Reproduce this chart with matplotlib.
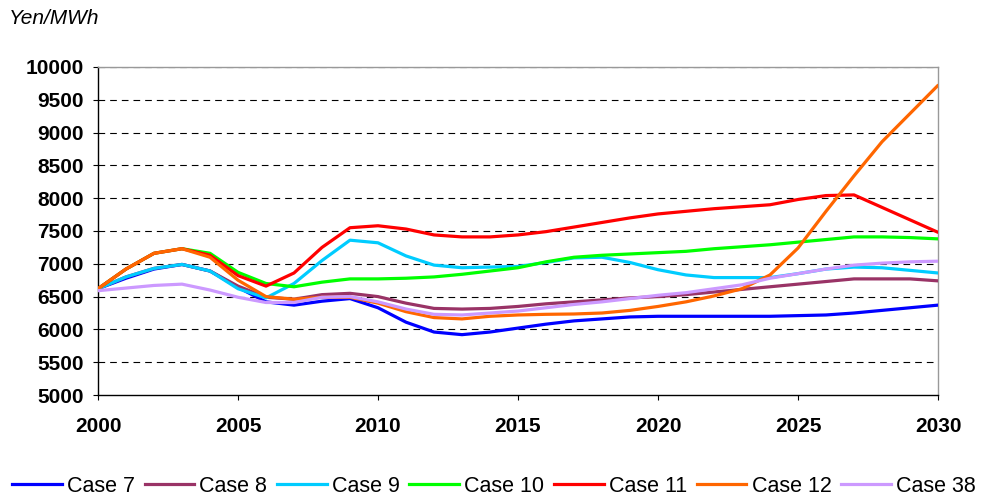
import numpy as np
import matplotlib.pyplot as plt
from matplotlib.lines import Line2D

# yearly values (Yen/MWh)
years = list(range(2000, 2031))

case7 = [6620, 6780, 6920, 6990, 6890, 6640, 6420, 6370, 6430, 6470,
         6330, 6110, 5960, 5920, 5960, 6020, 6080, 6130, 6160, 6190,
         6200, 6200, 6200, 6200, 6200, 6210, 6220, 6250, 6290, 6330, 6370]
case8 = [6620, 6800, 6930, 6990, 6890, 6660, 6490, 6460, 6530, 6550,
         6500, 6400, 6320, 6310, 6320, 6350, 6390, 6420, 6450, 6480,
         6500, 6530, 6570, 6610, 6650, 6690, 6730, 6770, 6770, 6770, 6740]
case9 = [6620, 6800, 6930, 6990, 6890, 6620, 6480, 6700, 7050, 7360,
         7320, 7120, 6980, 6940, 6950, 6960, 7020, 7090, 7100, 7020,
         6910, 6830, 6790, 6790, 6790, 6850, 6920, 6950, 6940, 6900, 6860]
case10 = [6620, 6920, 7160, 7230, 7160, 6870, 6700, 6650, 6720, 6770,
          6770, 6780, 6800, 6840, 6890, 6940, 7030, 7100, 7130, 7150,
          7170, 7190, 7230, 7260, 7290, 7330, 7370, 7410, 7410, 7400, 7380]
case11 = [6620, 6920, 7160, 7230, 7130, 6820, 6660, 6860, 7250, 7550,
          7580, 7530, 7440, 7410, 7410, 7440, 7490, 7560, 7630, 7700,
          7760, 7800, 7840, 7870, 7900, 7980, 8040, 8050, 7860, 7670, 7480]
case12 = [6620, 6920, 7160, 7230, 7100, 6750, 6500, 6460, 6490, 6490,
          6400, 6270, 6180, 6160, 6200, 6220, 6230, 6235, 6250, 6290,
          6350, 6420, 6510, 6620, 6830, 7240, 7800, 8340, 8860, 9290, 9720]
case38 = [6590, 6630, 6670, 6690, 6600, 6490, 6410, 6410, 6490, 6500,
          6420, 6310, 6230, 6220, 6250, 6280, 6330, 6380, 6420, 6470,
          6520, 6560, 6620, 6680, 6780, 6850, 6920, 6980, 7010, 7030, 7040]

labels = ['Case 7', 'Case 8', 'Case 9', 'Case 10', 'Case 11', 'Case 12', 'Case 38']
colors = ['#0000FF', '#993366', '#00CCFF', '#00FF00', '#FF0000', '#FF6600', '#CC99FF']
series = [case7, case8, case9, case10, case11, case12, case38]

plt.rcParams['font.family'] = ['Liberation Sans', 'DejaVu Sans']

fig = plt.figure(figsize=(9.82, 4.98), dpi=100)
ax = fig.add_axes([0.0998, 0.2068, 0.8554, 0.6587])

for ax_y in range(5500, 10001, 500):
    ax.axhline(ax_y, color='black', lw=0.8, dashes=(6, 4.5), zorder=1)

for vals, col, lab in zip(series, colors, labels):
    ax.plot(years, vals, color=col, lw=2.3, label=lab, zorder=3,
            solid_joinstyle='round', solid_capstyle='round')

ax.set_xlim(2000, 2030)
ax.set_ylim(5000, 10000)
ax.set_xticks(range(2000, 2031, 5))
ax.set_yticks(range(5000, 10001, 500))
ax.tick_params(axis='both', direction='out', length=3.5, width=0.8, labelsize=15)
ax.tick_params(axis='y', pad=7)
ax.tick_params(axis='x', pad=12)
for t in ax.get_xticklabels() + ax.get_yticklabels():
    t.set_fontweight('bold')

ax.spines['left'].set_color('black')
ax.spines['bottom'].set_color('black')
ax.spines['top'].set_color('#999999')
ax.spines['right'].set_color('#999999')
for s in ax.spines.values():
    s.set_linewidth(1.0)

fig.text(0.009, 0.962, 'Yen/MWh', fontsize=15, style='italic', va='center', ha='left')

handles = [Line2D([0], [0], color=c, lw=2.3) for c in colors]
fig.legend(handles, labels, loc='center', bbox_to_anchor=(0.503, 0.024), ncol=7,
           frameon=False, fontsize=15.5, handlelength=2.3, handletextpad=0.25,
           columnspacing=0.45, borderpad=0, borderaxespad=0)

fig.savefig('out.png', dpi=100)
